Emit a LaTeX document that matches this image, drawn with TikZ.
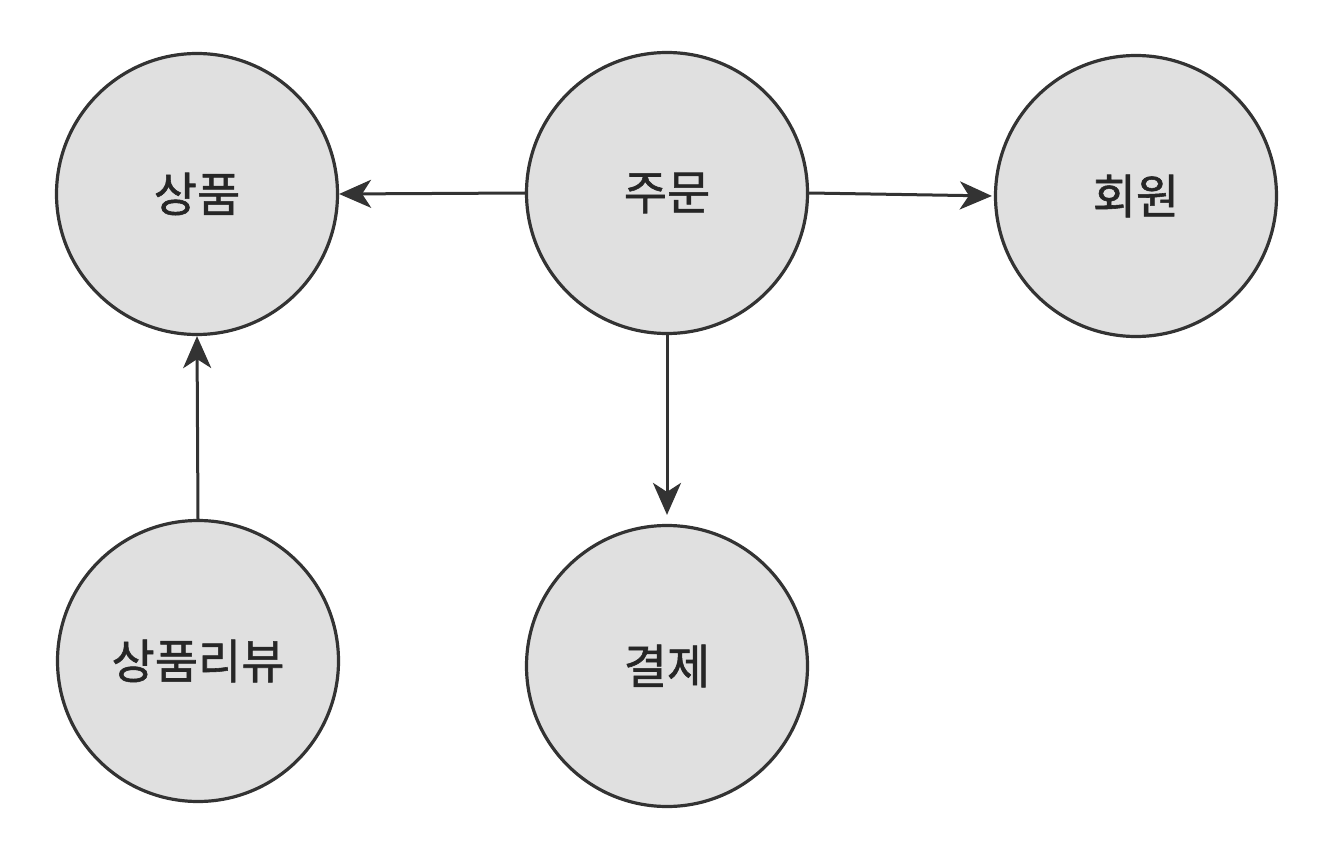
\documentclass[tikz,border=0pt]{standalone}
\usepackage{fontspec}
\newfontfamily\kr[BoldFont={Noto Sans CJK KR}, BoldFeatures={FakeBold=1.2}]{Noto Sans CJK KR}
\usetikzlibrary{arrows.meta}
\definecolor{ent}{HTML}{E0E0E0}
\definecolor{ink}{HTML}{333333}
\tikzset{
  entity/.style={circle, draw=ink, fill=ent, line width=3.2pt, minimum size=281pt, inner sep=0pt, font=\kr\bfseries\fontsize{47}{50}\selectfont, text=black!85},
  rel/.style={draw=ink, line width=3pt, -{Stealth[length=32pt, width=28pt, inset=9pt]}}
}
\begin{document}
\begin{tikzpicture}[x=1pt, y=-1pt]
  \useasboundingbox (0,0) rectangle (1342,848);
  \fill[white] (0,0) rectangle (1342,848);
  \node[entity] (sang) at (197,194) {상품};
  \node[entity] (ju) at (667,193) {주문};
  \node[entity] (hoe) at (1136,196) {회원};
  \node[entity] (rev) at (198,661) {상품리뷰};
  \node[entity] (gyul) at (667,666) {결제};
  \draw[rel] (ju.west) -- (sang.east);
  \draw[rel, shorten >=2pt] (ju.east) -- (hoe.west);
  \draw[rel, shorten >=9pt] (ju.south) -- (gyul.north);
  \draw[rel] (rev.north) -- (sang.south);
\end{tikzpicture}
\end{document}
